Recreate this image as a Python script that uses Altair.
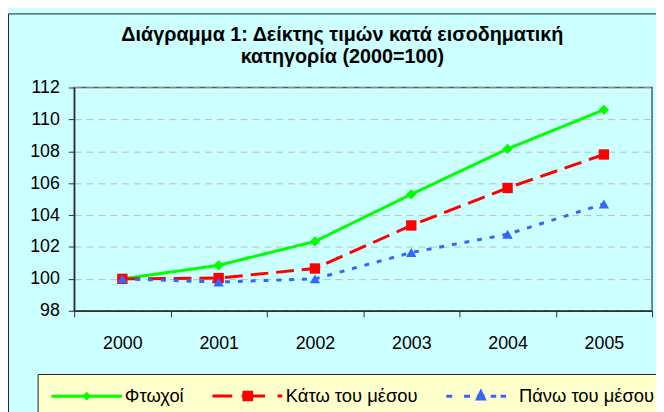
import altair as alt
import pandas as pd

# ---- data ----
years = ["2000", "2001", "2002", "2003", "2004", "2005"]
series_names = ["Φτωχοί", "Κάτω του μέσου", "Πάνω του μέσου"]
poor = [100.0, 100.85, 102.35, 105.3, 108.15, 110.6]
below_mid = [100.0, 100.05, 100.65, 103.35, 105.7, 107.8]
above_mid = [100.0, 99.8, 100.0, 101.65, 102.8, 104.7]
y_ticks = [98, 100, 102, 104, 106, 108, 110, 112]
title_lines = ["Διάγραμμα 1: Δείκτης τιμών κατά εισοδηματική", "κατηγορία (2000=100)"]

# ---- styles ----
colors = ["#00FF00", "#FF0000", "#3366FF"]
dashes = [[1, 0], [18, 8], [5, 8]]
shapes = ["diamond", "square", "triangle-up"]
# legend symbols: line segment + marker as custom paths (units of half symbol size)
legend_paths = [
    "M-1,0H1M0,-0.067L0.067,0L0,0.067L-0.067,0Z",
    "M-1,0H-0.44M-0.17,0H0.49M0.846,0H0.978"
    "M-0.108,-0.108H0.108V0.108H-0.108ZM-0.108,-0.05H0.108M-0.108,0.05H0.108",
    "M-0.979,0H-0.811M-0.476,0H-0.308M-0.112,0H0.112M0.28,0H0.434M0.559,0H0.713"
    "M0,-0.126L0.098,0.084L-0.098,0.084Z",
]
FONT = "Liberation Sans"

rows = []
for name, vals in zip(series_names, [poor, below_mid, above_mid]):
    for yr, v in zip(years, vals):
        rows.append({"year": yr, "value": v, "series": name})
df = pd.DataFrame(rows)

W, H = 585, 226
SYM = 5112  # legend symbol size (~71.5 px wide)

x_enc = alt.X(
    "year:O",
    bandPosition=0.5,
    scale=alt.Scale(type="band", paddingInner=0, paddingOuter=0),
    axis=alt.Axis(
        title=None, labelAngle=0, tickBand="extent", tickSize=6, labelPadding=18,
        labelFont=FONT, labelFontSize=18, labelColor="black",
        domainColor="#303030", domainWidth=1.5, tickColor="#303030", grid=False,
    ),
)
y_enc = alt.Y(
    "value:Q",
    scale=alt.Scale(domain=[98, 112], nice=False, zero=False),
    axis=alt.Axis(
        title=None, values=y_ticks, tickSize=6, labelPadding=9,
        labelFont=FONT, labelFontSize=18, labelColor="black",
        domainColor="#303030", domainWidth=1.5, tickColor="#303030",
        grid=True, gridDash=[7, 5], gridColor="#BDBDBD", gridWidth=1,
    ),
)
color_main = alt.Color("series:N", scale=alt.Scale(domain=series_names, range=colors), legend=None)

lines = alt.Chart(df).mark_line(strokeWidth=3).encode(
    x=x_enc, y=y_enc, color=color_main,
    strokeDash=alt.StrokeDash("series:N", scale=alt.Scale(domain=series_names, range=dashes), legend=None),
)
points = alt.Chart(df).mark_point(filled=True, opacity=1, size=110).encode(
    x=x_enc, y=y_enc, color=color_main,
    shape=alt.Shape("series:N", scale=alt.Scale(domain=series_names, range=shapes), legend=None),
)

leg = dict(
    title=None, orient="none", legendX=-32.8, legendY=266.5, direction="horizontal",
    symbolSize=SYM, symbolStrokeWidth=3, labelFont=FONT, labelFontSize=18.6,
    labelColor="black", labelOffset=1, columnPadding=22, padding=8, labelLimit=200,
)
legend_layer = alt.Chart(df).mark_point(filled=False, opacity=1, strokeWidth=3, size=SYM).encode(
    color=alt.Color("series:N", scale=alt.Scale(domain=series_names, range=colors), legend=alt.Legend(**leg)),
    shape=alt.Shape("series:N", scale=alt.Scale(domain=series_names, range=legend_paths), legend=alt.Legend(**leg)),
).transform_filter("false")

dummy = pd.DataFrame({"k": [0]})
outer_border = alt.Chart(dummy).mark_rect(fillOpacity=0, stroke="#202020", strokeWidth=1).encode(
    x=alt.value(-66.5), x2=alt.value(700), y=alt.value(-74.5), y2=alt.value(400)
)
legend_box = alt.Chart(dummy).mark_rect(fill="#FFFFCC", stroke="#202020", strokeWidth=1).encode(
    x=alt.value(-36.5), x2=alt.value(640), y=alt.value(290.5), y2=alt.value(360)
)

chart = alt.layer(outer_border, legend_box, lines, points, legend_layer).resolve_scale(
    color="independent", shape="independent"
).properties(
    width=W, height=H,
    autosize="none",
    padding={"left": 67, "top": 78, "right": 4, "bottom": 100},
    title=alt.TitleParams(
        text=title_lines, font=FONT, fontSize=20, fontWeight="bold", color="black",
        anchor="middle", frame="group", dx=-21, offset=0, dy=54, lineHeight=22,
    ),
).configure(background="#CCFFFF").configure_view(fill="#FFFFCC", stroke="#5A5A5A", strokeWidth=1.5)

chart.save("out.html", embed_options={"renderer": "svg", "actions": False})
